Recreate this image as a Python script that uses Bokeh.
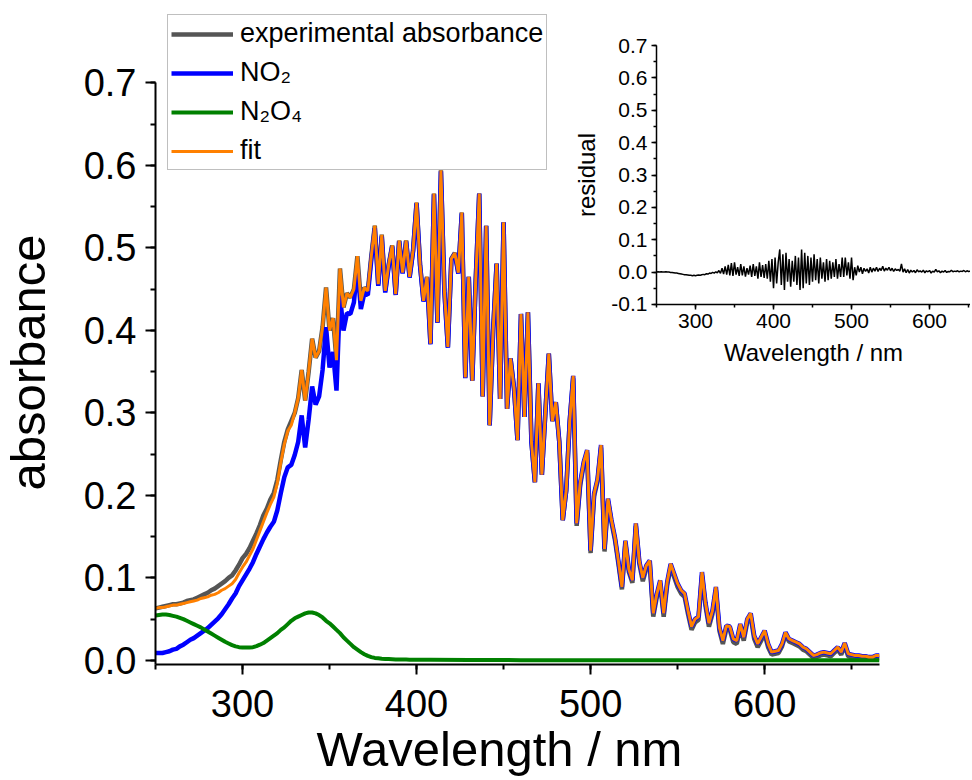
import math
import numpy as np
from bokeh.plotting import figure
from bokeh.models import (Legend, LegendItem, Label, SingleIntervalTicker, ColumnDataSource,
                          Range1d, PrintfTickFormatter)
from bokeh.layouts import column
from bokeh.embed import file_html
from bokeh.resources import INLINE

FONT = "Liberation Sans"

# wavelength grid (nm), 2 nm steps
wavelength = np.arange(250, 667, 2)

fit = [
    0.063, 0.064, 0.064, 0.065, 0.066, 0.067, 0.067, 0.068, 0.069, 0.070,
    0.071, 0.072, 0.073, 0.075, 0.076, 0.077, 0.079, 0.080, 0.082, 0.085,
    0.087, 0.090, 0.093, 0.098, 0.106, 0.113, 0.119, 0.127, 0.135, 0.146,
    0.157, 0.168, 0.179, 0.189, 0.198, 0.215, 0.240, 0.262, 0.278, 0.285,
    0.300, 0.318, 0.352, 0.315, 0.350, 0.390, 0.367, 0.375, 0.404, 0.452,
    0.400, 0.415, 0.364, 0.475, 0.428, 0.445, 0.440, 0.450, 0.490, 0.436,
    0.452, 0.448, 0.490, 0.527, 0.456, 0.516, 0.448, 0.480, 0.503, 0.444,
    0.509, 0.470, 0.509, 0.465, 0.497, 0.555, 0.480, 0.436, 0.465, 0.384,
    0.566, 0.410, 0.594, 0.448, 0.380, 0.487, 0.494, 0.470, 0.543, 0.343,
    0.465, 0.339, 0.461, 0.566, 0.320, 0.527, 0.285, 0.400, 0.481, 0.317,
    0.531, 0.305, 0.366, 0.330, 0.267, 0.420, 0.295, 0.422, 0.265, 0.216,
    0.336, 0.225, 0.300, 0.372, 0.290, 0.313, 0.265, 0.170, 0.206, 0.290,
    0.345, 0.166, 0.215, 0.240, 0.255, 0.133, 0.202, 0.220, 0.261, 0.135,
    0.196, 0.170, 0.149, 0.120, 0.089, 0.145, 0.110, 0.097, 0.166, 0.120,
    0.100, 0.115, 0.121, 0.057, 0.080, 0.097, 0.057, 0.095, 0.117, 0.105,
    0.093, 0.085, 0.081, 0.060, 0.041, 0.050, 0.053, 0.107, 0.070, 0.045,
    0.060, 0.089, 0.040, 0.024, 0.042, 0.041, 0.026, 0.024, 0.044, 0.028,
    0.050, 0.057, 0.030, 0.020, 0.028, 0.036, 0.020, 0.010, 0.011, 0.012,
    0.020, 0.034, 0.026, 0.024, 0.022, 0.020, 0.016, 0.014, 0.010, 0.006,
    0.007, 0.009, 0.010, 0.009, 0.008, 0.012, 0.016, 0.010, 0.021, 0.008,
    0.007, 0.006, 0.006, 0.005, 0.005, 0.004, 0.004, 0.006, 0.006,
]

experimental = [
    0.063, 0.064, 0.065, 0.066, 0.067, 0.068, 0.068, 0.069, 0.070, 0.072,
    0.073, 0.074, 0.076, 0.078, 0.080, 0.082, 0.085, 0.087, 0.090, 0.093,
    0.096, 0.100, 0.103, 0.109, 0.116, 0.124, 0.129, 0.136, 0.145, 0.154,
    0.164, 0.176, 0.184, 0.195, 0.203, 0.219, 0.243, 0.265, 0.280, 0.290,
    0.300, 0.318, 0.352, 0.315, 0.350, 0.390, 0.367, 0.375, 0.404, 0.452,
    0.400, 0.415, 0.364, 0.475, 0.428, 0.445, 0.440, 0.450, 0.490, 0.436,
    0.452, 0.448, 0.490, 0.527, 0.456, 0.516, 0.448, 0.480, 0.503, 0.444,
    0.509, 0.470, 0.509, 0.465, 0.497, 0.555, 0.480, 0.436, 0.465, 0.384,
    0.566, 0.410, 0.594, 0.448, 0.380, 0.487, 0.494, 0.470, 0.543, 0.343,
    0.465, 0.339, 0.461, 0.566, 0.320, 0.527, 0.285, 0.400, 0.481, 0.317,
    0.531, 0.305, 0.366, 0.330, 0.267, 0.420, 0.295, 0.422, 0.265, 0.216,
    0.336, 0.225, 0.300, 0.372, 0.290, 0.313, 0.265, 0.170, 0.206, 0.290,
    0.342, 0.163, 0.212, 0.237, 0.252, 0.130, 0.199, 0.217, 0.258, 0.132,
    0.193, 0.167, 0.146, 0.117, 0.086, 0.142, 0.107, 0.094, 0.163, 0.117,
    0.096, 0.111, 0.117, 0.053, 0.076, 0.093, 0.053, 0.091, 0.113, 0.101,
    0.089, 0.081, 0.077, 0.056, 0.037, 0.046, 0.049, 0.103, 0.066, 0.041,
    0.056, 0.085, 0.036, 0.020, 0.038, 0.037, 0.022, 0.020, 0.040, 0.024,
    0.046, 0.053, 0.026, 0.016, 0.024, 0.032, 0.016, 0.007, 0.008, 0.009,
    0.017, 0.031, 0.023, 0.021, 0.019, 0.017, 0.013, 0.011, 0.007, 0.003,
    0.004, 0.006, 0.007, 0.006, 0.005, 0.009, 0.013, 0.007, 0.018, 0.005,
    0.004, 0.003, 0.003, 0.002, 0.002, 0.001, 0.001, 0.003, 0.003,
]

no2 = [
    0.009, 0.009, 0.009, 0.010, 0.011, 0.013, 0.014, 0.017, 0.019, 0.022,
    0.025, 0.027, 0.030, 0.033, 0.036, 0.039, 0.043, 0.047, 0.051, 0.056,
    0.062, 0.068, 0.075, 0.081, 0.090, 0.097, 0.104, 0.111, 0.119, 0.129,
    0.138, 0.147, 0.155, 0.162, 0.168, 0.182, 0.203, 0.222, 0.234, 0.237,
    0.249, 0.265, 0.297, 0.258, 0.292, 0.332, 0.310, 0.320, 0.352, 0.404,
    0.355, 0.374, 0.327, 0.442, 0.400, 0.421, 0.420, 0.434, 0.477, 0.426,
    0.445, 0.443, 0.486, 0.524, 0.454, 0.514, 0.446, 0.478, 0.502, 0.443,
    0.508, 0.469, 0.508, 0.464, 0.496, 0.554, 0.479, 0.435, 0.464, 0.383,
    0.565, 0.409, 0.593, 0.447, 0.379, 0.486, 0.493, 0.469, 0.542, 0.342,
    0.465, 0.339, 0.461, 0.566, 0.320, 0.527, 0.285, 0.400, 0.481, 0.317,
    0.531, 0.305, 0.366, 0.330, 0.267, 0.420, 0.295, 0.422, 0.265, 0.216,
    0.336, 0.225, 0.300, 0.372, 0.290, 0.313, 0.265, 0.170, 0.206, 0.290,
    0.345, 0.166, 0.215, 0.240, 0.255, 0.133, 0.202, 0.220, 0.261, 0.135,
    0.196, 0.170, 0.149, 0.120, 0.089, 0.145, 0.110, 0.097, 0.166, 0.120,
    0.100, 0.115, 0.121, 0.057, 0.080, 0.097, 0.057, 0.095, 0.117, 0.105,
    0.093, 0.085, 0.081, 0.060, 0.041, 0.050, 0.053, 0.107, 0.070, 0.045,
    0.060, 0.089, 0.040, 0.024, 0.042, 0.041, 0.026, 0.024, 0.044, 0.028,
    0.050, 0.057, 0.030, 0.020, 0.028, 0.036, 0.020, 0.010, 0.011, 0.012,
    0.020, 0.034, 0.026, 0.024, 0.022, 0.020, 0.016, 0.014, 0.010, 0.006,
    0.007, 0.009, 0.010, 0.009, 0.008, 0.012, 0.016, 0.010, 0.021, 0.008,
    0.007, 0.006, 0.006, 0.005, 0.005, 0.004, 0.004, 0.006, 0.006,
]

# N2O4 component: fine grid 250-408 nm, then a few points on the flat tail
wavelength_n2o4 = list(range(250, 409, 2)) + [430, 460, 500, 550, 600, 666]
n2o4 = [
    0.0545, 0.0550, 0.0555, 0.0555, 0.0550, 0.0540, 0.0530, 0.0515, 0.0500, 0.0480,
    0.0460, 0.0440, 0.0420, 0.0400, 0.0375, 0.0350, 0.0325, 0.0300, 0.0275, 0.0250,
    0.0225, 0.0205, 0.0185, 0.0170, 0.0160, 0.0155, 0.0155, 0.0157, 0.0160, 0.0172,
    0.0190, 0.0210, 0.0240, 0.0270, 0.0300, 0.0330, 0.0370, 0.0400, 0.0440, 0.0480,
    0.0510, 0.0530, 0.0550, 0.0570, 0.0580, 0.0580, 0.0570, 0.0550, 0.0520, 0.0480,
    0.0450, 0.0410, 0.0370, 0.0330, 0.0280, 0.0240, 0.0200, 0.0160, 0.0130, 0.0100,
    0.0075, 0.0055, 0.0040, 0.0030, 0.0025, 0.0020, 0.0018, 0.0016, 0.0014, 0.0012,
    0.0011, 0.0010, 0.0010, 0.0009, 0.0009, 0.0008, 0.0008, 0.0008, 0.0007, 0.0007,
    0.0004, 0.0003, 0.0003, 0.0002, 0.0002, 0.0001,
]

residual = [
    0.000, 0.001, 0.000, 0.001, 0.000, 0.000, 0.001, 0.000, 0.000, -0.001,
    -0.001, -0.002, -0.003, -0.003, -0.004, -0.005, -0.006, -0.007, -0.008, -0.008,
    -0.009, -0.010, -0.010, -0.011, -0.010, -0.011, -0.010, -0.009, -0.010, -0.008,
    -0.007, -0.008, -0.005, -0.006, -0.003, -0.004, -0.001, -0.003, 0.001, -0.002,
    0.005, -0.004, 0.012, -0.006, 0.018, -0.008, 0.022, -0.010, 0.028, -0.012,
    0.030, -0.008, 0.015, -0.012, 0.025, -0.010, 0.018, -0.014, 0.012, -0.008,
    0.020, -0.015, 0.025, -0.012, 0.018, -0.020, 0.030, -0.015, 0.022, -0.018,
    0.025, -0.020, 0.035, -0.030, 0.040, -0.050, 0.045, -0.035, 0.030, 0.070,
    -0.040, 0.055, -0.055, 0.060, -0.030, 0.040, -0.045, 0.035, -0.030, 0.050,
    -0.040, 0.045, -0.055, 0.070, -0.050, 0.060, -0.035, 0.050, -0.040, 0.045,
    -0.030, 0.055, -0.025, 0.040, -0.035, 0.045, -0.020, 0.030, -0.030, 0.040,
    -0.025, 0.035, -0.020, 0.030, -0.015, 0.040, -0.020, 0.025, -0.015, 0.045,
    -0.015, 0.045, -0.010, 0.030, -0.020, 0.045, -0.025, 0.015, -0.010, 0.020,
    0.000, 0.015, -0.005, 0.012, 0.002, 0.010, -0.003, 0.015, 0.000, 0.012,
    0.003, 0.015, 0.002, 0.012, 0.005, 0.018, 0.003, 0.012, 0.006, 0.015,
    0.004, 0.012, 0.002, 0.010, 0.005, 0.008, 0.003, 0.025, 0.000, 0.010,
    -0.002, 0.008, -0.003, 0.006, 0.000, 0.005, -0.002, 0.007, 0.001, 0.004,
    0.000, 0.006, -0.002, 0.004, 0.001, 0.005, -0.003, 0.003, 0.000, 0.008,
    0.001, 0.004, -0.002, 0.003, 0.000, 0.005, -0.001, 0.002, 0.001, 0.006,
    0.001, 0.003, 0.002, 0.004, 0.001, 0.003, 0.002, 0.005, 0.001, 0.004,
    0.002, 0.003, 0.002, 0.004, 0.001, 0.005, 0.002, 0.003, 0.002,
]

legend_labels = ["experimental absorbance", "NO\u2082", "N\u2082O\u2084", "fit"]

# ---------------- main plot ----------------
# frame reaches up to the top of the page so the legend (above 0.7) is not clipped;
# the y axis itself is bounded to 0 ... 0.7
p = figure(width=970, height=778, x_range=Range1d(250, 666), y_range=Range1d(-0.005, 0.7903),
           output_backend="svg", toolbar_location=None, frame_align=False,
           min_border_left=155, min_border_right=91, min_border_top=8, min_border_bottom=114)
p.outline_line_color = None
p.grid.visible = False
p.background_fill_alpha = 0
p.border_fill_alpha = 0

p.xaxis.ticker = SingleIntervalTicker(interval=100, num_minor_ticks=2)
p.yaxis.ticker = SingleIntervalTicker(interval=0.1, num_minor_ticks=2)
p.yaxis.formatter = PrintfTickFormatter(format="%.1f")
p.yaxis.bounds = (-0.005, 0.7001)
for ax in (p.xaxis[0], p.yaxis[0]):
    ax.axis_line_width = 2
    ax.axis_line_color = "black"
    ax.major_tick_line_width = 2
    ax.minor_tick_line_width = 2
    ax.major_tick_in = 0
    ax.major_tick_out = 10
    ax.minor_tick_in = 0
    ax.minor_tick_out = 5
    ax.major_label_text_font = FONT
    ax.major_label_text_font_size = "38px"
    ax.major_label_text_color = "black"
p.xaxis.major_label_standoff = 15
p.yaxis.major_label_standoff = 9

src = ColumnDataSource(dict(wl=wavelength, exp=experimental, no2=no2, fit=fit))
r_exp = p.line("wl", "exp", source=src, line_color="#555555", line_width=4.5)
r_no2 = p.line("wl", "no2", source=src, line_color="#0000ff", line_width=4.5)
r_n2o4 = p.line(wavelength_n2o4, n2o4, line_color="#008000", line_width=4)
r_fit = p.line("wl", "fit", source=src, line_color="#ff8000", line_width=3)

legend = Legend(items=[LegendItem(label=legend_labels[0], renderers=[r_exp]),
                       LegendItem(label=legend_labels[1], renderers=[r_no2]),
                       LegendItem(label=legend_labels[2], renderers=[r_n2o4]),
                       LegendItem(label=legend_labels[3], renderers=[r_fit])],
                location=(12, 494), orientation="vertical",
                label_text_font=FONT, label_text_font_size="27px", label_text_color="black",
                glyph_width=62, glyph_height=30, label_height=30, spacing=8,
                padding=3, margin=0, label_standoff=7,
                border_line_color="#7f7f7f", border_line_width=1.5,
                background_fill_color="white", background_fill_alpha=1)
p.add_layout(legend)

# ---------------- inset ----------------
ins = figure(width=400, height=364, x_range=Range1d(250, 652.5), y_range=Range1d(-0.1001, 0.7001),
             output_backend="svg", toolbar_location=None, frame_align=False,
             min_border_left=86, min_border_right=0, min_border_top=25, min_border_bottom=80)
ins.outline_line_color = None
ins.grid.visible = False
ins.xaxis.ticker = SingleIntervalTicker(interval=100, num_minor_ticks=2)
ins.yaxis.ticker = SingleIntervalTicker(interval=0.1, num_minor_ticks=2)
ins.yaxis.formatter = PrintfTickFormatter(format="%.1f")
for ax in (ins.xaxis[0], ins.yaxis[0]):
    ax.axis_line_width = 1.5
    ax.axis_line_color = "black"
    ax.major_tick_line_width = 1.5
    ax.minor_tick_line_width = 1.5
    ax.major_tick_in = 0
    ax.major_tick_out = 5
    ax.minor_tick_in = 0
    ax.minor_tick_out = 3
    ax.major_label_text_font = FONT
    ax.major_label_text_font_size = "21px"
    ax.major_label_text_color = "black"
    ax.major_label_standoff = 4
    ax.axis_label_text_font = FONT
    ax.axis_label_text_font_size = "24px"
    ax.axis_label_text_font_style = "normal"
    ax.axis_label_text_color = "black"
    ax.axis_label_standoff = 8
ins.xaxis.axis_label = "Wavelength / nm"
ins.yaxis.axis_label = "residual"
ins.line(wavelength, residual, line_color="black", line_width=1.5)

# ---------------- transparent overlay holding the main axis titles ----------------
ov = figure(width=970, height=778, x_range=Range1d(0, 970), y_range=Range1d(778, 0),
            x_axis_type=None, y_axis_type=None, output_backend="svg", toolbar_location=None,
            frame_align=False, min_border=0)
ov.outline_line_color = None
ov.background_fill_alpha = 0
ov.border_fill_alpha = 0
ov.add_layout(Label(x=499, y=748, text="Wavelength / nm", text_font=FONT,
                    text_font_size="49px", text_align="center", text_baseline="alphabetic",
                    text_color="black"))
ov.add_layout(Label(x=27, y=362, text="absorbance", text_font=FONT, angle=math.pi / 2,
                    text_font_size="49px", text_align="center", text_baseline="alphabetic",
                    text_color="black"))

ins.margin = (20, 0, 0, 570)
p.margin = (-384, 0, 0, 0)
ov.margin = (-778, 0, 0, 0)
layout = column(ins, p, ov)

open("out.html", "w").write(file_html(layout, INLINE))
